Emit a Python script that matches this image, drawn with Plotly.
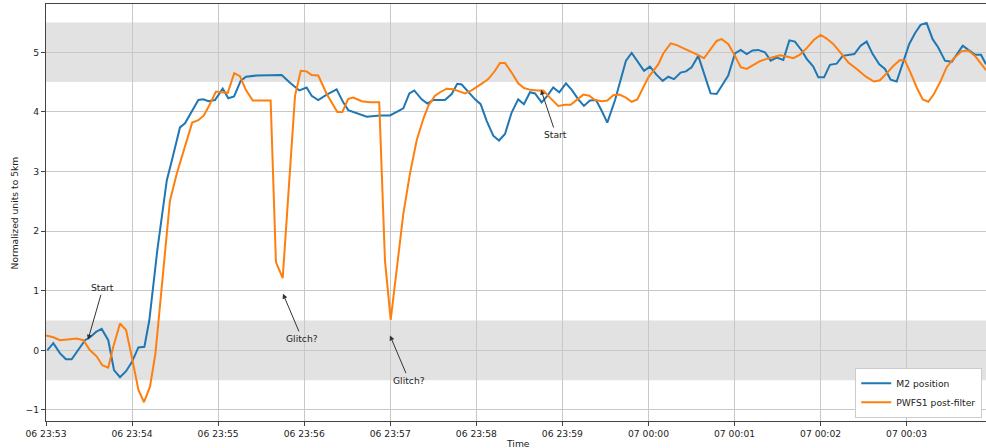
import pandas as pd
import plotly.graph_objects as go

# ---- data (seconds after 06 23:53:00, normalized value) ----
m2_t = [0.9, 5.1, 9.8, 13.9, 17.9, 22.5, 27.2, 30.7, 34.9, 38.8, 43.4, 47.4, 51.6, 55.8, 59.8,
        64.4, 68.6, 72.0, 74.8, 77.6, 80.7, 84.2, 87.7, 93.4, 96.9, 100.4, 106.2, 109.7, 113.2,
        117.8, 123.2, 127.1, 131.1, 135.7, 139.4, 146.9, 156.1, 164.3, 170.1, 176.6, 181.7,
        185.2, 189.8, 195.7, 202.6, 207.2, 210.7, 216.6, 223.6, 232.8, 239.8, 244.5, 249.1,
        253.3, 256.7, 261.9, 265.8, 270.0, 278.1, 282.8, 286.7, 289.8, 294.4, 299.1, 303.0,
        307.2, 311.8, 315.8, 320.0, 324.6, 329.2, 333.2, 337.4, 340.9, 345.5, 349.5, 353.6,
        357.8, 362.5, 366.5, 371.1, 375.0, 379.2, 383.4, 387.4, 391.3, 396.7, 404.3, 408.3,
        412.9, 416.9, 421.0, 425.4, 429.9, 433.8, 437.8, 442.4, 446.1, 450.1, 454.7, 463.3,
        467.5, 471.7, 475.6, 480.3, 484.3, 488.5, 492.6, 496.5, 501.2, 505.2, 509.4, 514.0,
        518.2, 522.1, 526.8, 530.3, 534.9, 538.4, 542.4, 546.5, 551.2, 555.4, 559.3, 563.5,
        567.9, 572.1, 576.3, 580.9, 584.9, 588.8, 593.0, 601.8, 605.8, 609.7, 613.9, 618.1,
        622.0, 626.7, 631.4, 634.9, 639.1, 643.0, 647.6, 651.8, 655.3]
m2_v = [0.0, 0.12, -0.05, -0.15, -0.15, 0.0, 0.17, 0.22, 0.31, 0.36, 0.17, -0.33, -0.45, -0.35, -0.2,
        0.05, 0.06, 0.5, 1.12, 1.68, 2.23, 2.85, 3.18, 3.74, 3.81, 3.96, 4.2, 4.21, 4.18,
        4.2, 4.39, 4.23, 4.26, 4.52, 4.59, 4.61, 4.62, 4.62, 4.49, 4.36, 4.41,
        4.27, 4.2, 4.29, 4.38, 4.16, 4.03, 3.98, 3.92, 3.94, 3.94, 4.0, 4.06,
        4.31, 4.36, 4.21, 4.14, 4.2, 4.2, 4.3, 4.47, 4.46, 4.33, 4.21, 4.13,
        3.85, 3.6, 3.52, 3.63, 3.99, 4.21, 4.13, 4.33, 4.31, 4.16, 4.27, 4.41,
        4.33, 4.48, 4.37, 4.21, 4.1, 4.19, 4.2, 4.02, 3.82, 4.2, 4.86, 4.99,
        4.83, 4.69, 4.76, 4.63, 4.52, 4.59, 4.55, 4.66, 4.68, 4.75, 4.94, 4.31,
        4.3, 4.46, 4.61, 4.98, 5.04, 4.97, 5.03, 5.04, 5.0, 4.86, 4.91, 4.87,
        5.2, 5.18, 5.03, 4.89, 4.76, 4.58, 4.58, 4.79, 4.81, 4.94, 4.96, 4.97,
        5.11, 5.18, 4.97, 4.8, 4.72, 4.54, 4.51, 5.14, 5.32, 5.46, 5.49, 5.22,
        5.08, 4.86, 4.84, 4.97, 5.11, 5.04, 4.96, 4.96, 4.8]

pw_t = [0.0, 5.1, 9.8, 15.5, 21.4, 26.0, 30.7, 35.3, 39.2, 43.4, 46.9, 51.6, 55.8, 59.8, 64.4,
        68.3, 72.5, 76.3, 79.5, 83.0, 86.4, 91.1, 98.1, 101.9, 106.2, 110.0, 113.6, 118.5,
        122.5, 126.7, 131.2, 135.2, 139.1, 144.1, 149.2, 156.6, 160.3, 165.0, 173.6, 177.6,
        181.7, 185.2, 189.8, 195.7, 203.1, 206.6, 210.7, 214.2, 220.1, 225.9, 232.3, 236.3,
        240.3, 244.5, 249.1, 253.7, 258.4, 263.0, 266.5, 271.2, 274.7, 279.3, 283.9, 288.6,
        292.1, 296.7, 300.2, 304.8, 308.3, 313.0, 316.5, 320.0, 324.6, 329.2, 333.2, 337.7,
        342.5, 346.7, 351.3, 357.1, 361.8, 365.8, 370.4, 374.6, 378.7, 382.7, 387.4, 391.3,
        395.5, 399.7, 404.3, 408.3, 412.2, 416.4, 419.9, 423.4, 426.9, 430.3, 435.5, 439.7,
        444.3, 449.0, 454.0, 458.7, 462.9, 467.5, 471.0, 475.6, 480.3, 484.3, 488.5, 493.1,
        497.7, 502.4, 507.0, 511.7, 516.3, 521.0, 525.6, 530.3, 535.4, 540.0, 544.2, 548.8,
        554.7, 559.3, 565.2, 571.6, 577.2, 581.4, 586.1, 590.7, 595.3, 598.8, 602.8, 607.0,
        611.2, 615.1, 619.0, 623.7, 627.9, 632.5, 638.4, 643.0, 647.6, 652.3, 655.3]
pw_v = [0.25, 0.22, 0.17, 0.18, 0.2, 0.17, 0.0, -0.1, -0.25, -0.29, 0.06, 0.45, 0.34, -0.11, -0.66,
        -0.87, -0.61, -0.05, 0.73, 1.62, 2.51, 2.96, 3.52, 3.82, 3.86, 3.94, 4.1, 4.34,
        4.33, 4.32, 4.65, 4.6, 4.38, 4.19, 4.19, 4.19, 1.48, 1.21, 4.27, 4.69,
        4.68, 4.62, 4.61, 4.3, 4.0, 4.0, 4.22, 4.24, 4.18, 4.16, 4.16, 1.51,
        0.51, 1.34, 2.29, 2.96, 3.52, 3.88, 4.1, 4.27, 4.33, 4.39, 4.38, 4.34,
        4.31, 4.36, 4.41, 4.49, 4.55, 4.69, 4.82, 4.82, 4.66, 4.48, 4.4, 4.37,
        4.36, 4.36, 4.24, 4.1, 4.12, 4.12, 4.21, 4.29, 4.27, 4.2, 4.18, 4.19,
        4.28, 4.29, 4.24, 4.17, 4.21, 4.4, 4.58, 4.69, 4.8, 4.98, 5.15, 5.12,
        5.07, 5.02, 4.96, 4.9, 5.03, 5.19, 5.22, 5.14, 4.94, 4.75, 4.72, 4.79,
        4.85, 4.89, 4.92, 4.95, 4.93, 4.9, 4.96, 5.07, 5.21, 5.29, 5.23, 5.14,
        4.97, 4.83, 4.72, 4.59, 4.51, 4.53, 4.65, 4.77, 4.87, 4.86, 4.65, 4.41,
        4.21, 4.17, 4.3, 4.52, 4.75, 4.89, 5.02, 5.03, 4.94, 4.8, 4.7]

# annotations: (label, tip_sec, tip_val, text_sec, text_val)
ann_labels = ["Start", "Glitch?", "Glitch?", "Start"]
ann_tip_t = [29.3, 165.2, 239.8, 345.1]
ann_tip_v = [0.18, 0.95, 0.25, 4.37]
ann_txt_t = [39.7, 178.4, 253.0, 355.5]
ann_txt_v = [1.05, 0.2, -0.5, 3.62]

bands = [(-0.5, 0.5), (4.5, 5.5)]
y_ticks = [-1, 0, 1, 2, 3, 4, 5]
x_title = "Time"
y_title = "Normalized units to 5km"

base = pd.Timestamp("2021-01-06 23:53:00")
def ts(secs):
    return [base + pd.to_timedelta(s, unit="s") for s in secs]

FS = 9.2
fig = go.Figure()
fig.add_trace(go.Scatter(x=ts(m2_t), y=m2_v, mode="lines", name="M2 position",
                         line=dict(color="#1f77b4", width=2)))
fig.add_trace(go.Scatter(x=ts(pw_t), y=pw_v, mode="lines", name="PWFS1 post-filter",
                         line=dict(color="#ff7f0e", width=2)))

for lo, hi in bands:
    fig.add_shape(type="rect", xref="paper", x0=0, x1=1, yref="y", y0=lo, y1=hi,
                  fillcolor="#e2e2e2", line=dict(width=0), layer="below")

for lab, tt, tv, xt, xv in zip(ann_labels, ann_tip_t, ann_tip_v, ann_txt_t, ann_txt_v):
    fig.add_annotation(x=ts([tt])[0], y=tv, ax=ts([xt])[0], ay=xv, axref="x", ayref="y",
                       text=lab, showarrow=True, arrowhead=2, arrowsize=1, arrowwidth=1,
                       arrowcolor="#333", font=dict(size=FS, color="#222"))

fig.add_annotation(text=x_title, xref="paper", yref="paper", x=0.502, y=-0.053,
                   xanchor="center", yanchor="middle", showarrow=False,
                   font=dict(size=FS, color="#222"))
fig.add_annotation(text=y_title, xref="paper", yref="paper", x=-0.033, y=0.5,
                   xanchor="center", yanchor="middle", textangle=-90, showarrow=False,
                   font=dict(size=FS, color="#222"))

fig.update_layout(
    width=986, height=448,
    margin=dict(l=46, r=0, t=4, b=27, autoexpand=False),
    paper_bgcolor="white", plot_bgcolor="white",
    font=dict(family="DejaVu Sans", size=FS, color="#222"),
    showlegend=True,
    legend=dict(x=0.996, y=0.008, xanchor="right", yanchor="bottom",
                bgcolor="white", bordercolor="#cccccc", borderwidth=1,
                font=dict(family="DejaVu Sans", size=FS, color="#222"),
                itemwidth=30, tracegroupgap=0),
)
fig.update_xaxes(
    type="date", automargin=False,
    range=[base, base + pd.to_timedelta(655.3, unit="s")],
    tickformat="%d %H:%M", dtick=60000,
    showgrid=True, gridcolor="#c8c8c8", gridwidth=1,
    showline=True, linecolor="#444", linewidth=1, mirror=True,
    ticks="outside", ticklen=4, tickcolor="#444",
    zeroline=False,
)
fig.update_yaxes(
    automargin=False,
    range=[-1.185, 5.81],
    tickvals=y_ticks,
    showgrid=True, gridcolor="#c8c8c8", gridwidth=1,
    showline=True, linecolor="#444", linewidth=1, mirror=False,
    ticks="outside", ticklen=4, tickcolor="#444",
    zeroline=False,
)

fig.write_html("out.html", config={"displayModeBar": False},
               post_script="document.body.style.margin='0';document.body.style.overflow='hidden';")
